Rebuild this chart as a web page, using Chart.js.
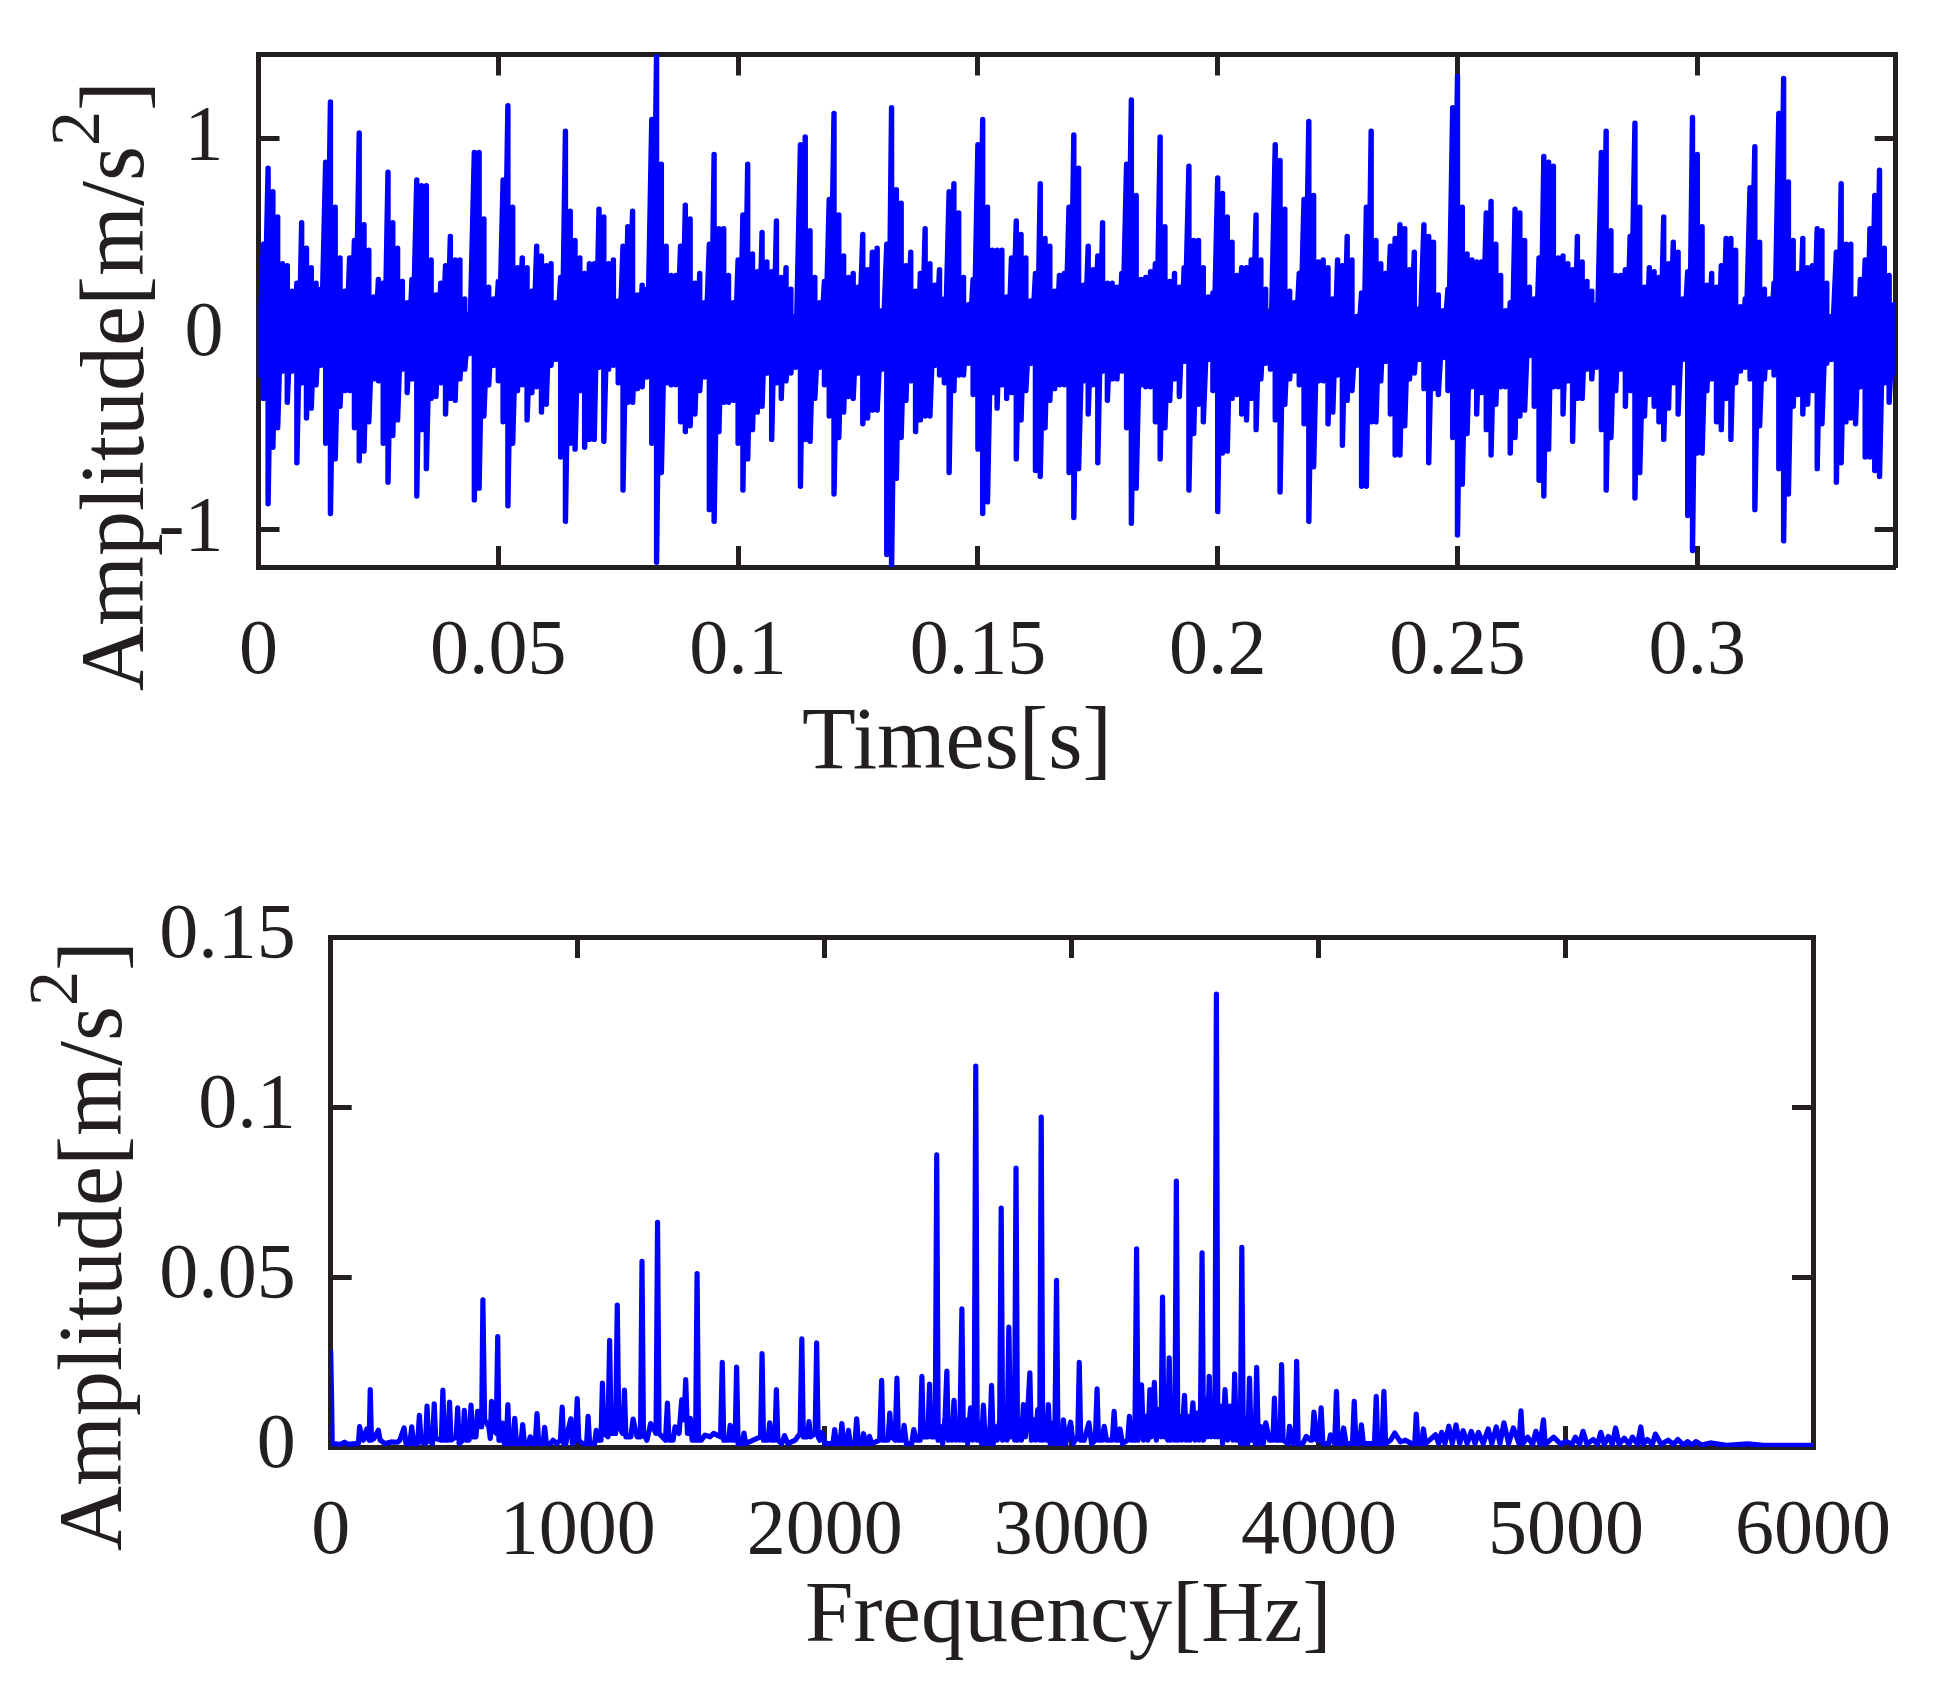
<!DOCTYPE html>
<html>
<head>
<meta charset="utf-8">
<title>Vibration signal and spectrum</title>
<script src="https://cdn.jsdelivr.net/npm/chart.js@4/dist/chart.umd.min.js"></script>
<style>
  html, body { margin: 0; background: #fff; }
  canvas { position: absolute; left: 0; }
</style>
</head>
<body>
<canvas id="wave" style="top:0"></canvas>
<canvas id="spectrum" style="top:841px"></canvas>
<script>
const timeStepS = 0.001;
const waveUpper = [
  .14,.46,.85,.73,.60,.36,.35,.22,.26,.57,.44,.34,.26,.23,.88,1.19,.65,.39,.22,.39,.48,1.03,.56,.43,.19,.28,.26,.83,.57,.44,
  .27,.16,.28,.79,.76,.76,.38,.20,.26,.35,.50,.38,.38,.18,.10,.93,.93,.59,.24,.18,.27,.79,1.17,.65,.34,.39,.34,.22,.45,.40,
  .35,.36,.16,.29,1.04,.63,.48,.39,.31,.36,.36,.64,.60,.36,.38,.17,.45,.55,.63,.20,.25,.23,1.10,1.44,.87,.45,.30,
  .30,.45,.66,.59,.26,.31,.16,.46,.92,.54,.54,.30,.16,.38,.61,.87,.41,.32,.52,.37,.32,.58,.29,.34,.23,.09,.97,1.01,.53,.29,
  .16,.27,.69,1.13,.61,.40,.29,.31,.24,.51,.33,.42,.44,.12,.46,1.16,.74,.67,.35,.42,.22,.31,.54,.36,.25,.33,.18,.73,.77,.62,
  .29,.15,.28,.97,1.10,.65,.43,.43,.43,.19,.39,.58,.51,.39,.17,.31,.77,.49,.45,.22,.30,.31,.65,1.02,.85,
  .25,.45,.33,.40,.57,.26,.26,.24,.31,.87,1.20,.71,.28,.29,.32,.36,1.01,.55,.27,.31,.24,.34,.86,.48,.48,.34,.19,.21,.80,.72,
  .60,.47,.30,.34,.34,.38,.61,.38,.23,.12,.97,.89,.64,.22,.16,.31,.69,1.09,.71,.37,.38,.34,.18,.38,.35,.50,.38,.09,.21,.65,
  1.04,.48,.36,.31,.45,.49,.56,.54,.33,.42,.13,.56,.50,.47,.20,.12,.23,1.16,1.32,.65,.41,.38,.37,.37,.62,.68,
  .46,.30,.12,.16,.64,.62,.48,.24,.18,.39,.91,.88,.86,.39,.40,.36,.33,.50,.37,.27,.22,.15,.93,1.04,.53,.30,.30,.33,.50,1.08,
  .65,.24,.34,.32,.29,.60,.36,.47,.42,.18,.32,1.11,.92,.55,.25,.31,.24,.35,.49,.49,.43,.14,.18,.75,.96,.47,.23,.18,.26,1.13,
  1.31,.78,.48,.31,.49,.34,.35,.54,.53,.26,.09,.42,.77,.46,.46,.18,.28,.38,.54,.71,.84,.44,.30,.15
];
const waveLower = [
  -.21,-.33,-.87,-.58,-.48,-.19,-.35,-.19,-.66,-.25,-.43,-.38,-.26,-.16,-.56,-.92,-.64,-.37,-.29,-.29,-.48,-.65,-.60,-.45,-.23,-.24,-.56,-.76,-.52,-.44,
  -.18,-.30,-.23,-.83,-.49,-.69,-.33,-.32,-.25,-.41,-.33,-.34,-.23,-.18,-.10,-.85,-.79,-.42,-.26,-.16,-.24,-.45,-.88,-.56,-.29,-.26,-.44,-.30,-.27,-.40,
  -.36,-.16,-.13,-.63,-.96,-.56,-.59,-.29,-.58,-.54,-.54,-.17,-.55,-.18,-.16,-.25,-.80,-.35,-.35,-.28,-.27,-.22,-.56,-1.17,-.71,-.25,-.26,
  -.26,-.45,-.50,-.47,-.41,-.29,-.22,-.90,-.96,-.50,-.35,-.35,-.34,-.56,-.80,-.64,-.49,-.40,-.37,-.20,-.54,-.25,-.33,-.24,-.20,-.17,-.78,-.54,-.55,-.33,
  -.17,-.26,-.42,-.82,-.53,-.40,-.32,-.33,-.20,-.46,-.43,-.39,-.39,-.18,-1.13,-1.20,-.74,-.53,-.34,-.24,-.50,-.44,-.42,-.42,-.16,-.21,-.25,-.71,-.29,-.21,
  -.21,-.15,-.31,-.59,-.92,-.86,-.30,-.38,-.26,-.33,-.30,-.64,-.44,-.29,-.15,-.70,-.73,-.48,-.34,-.28,-.26,-.26,-.71,-.94,-.69,
  -.24,-.41,-.26,-.66,-.19,-.34,-.23,-.23,-.19,-.48,-.97,-.79,-.26,-.27,-.27,-.45,-.64,-.48,-.34,-.23,-.32,-.14,-.80,-.51,-.36,-.45,-.13,-.29,-.91,-.61,
  -.60,-.33,-.31,-.41,-.44,-.33,-.49,-.23,-.15,-.18,-.44,-.81,-.36,-.23,-.19,-.26,-.46,-.96,-.68,-.24,-.24,-.46,-.40,-.21,-.57,-.34,-.29,-.16,-.78,-.78,
  -.45,-.45,-.24,-.14,-.41,-.62,-.62,-.47,-.23,-.20,-.13,-.28,-.66,-.28,-.31,-.12,-.29,-.53,-1.03,-.77,-.51,-.27,-.41,-.30,-.49,-.62,
  -.36,-.27,-.27,-.61,-.53,-.42,-.39,-.11,-.37,-.75,-.83,-.59,-.27,-.27,-.41,-.24,-.55,-.33,-.33,-.18,-.23,-.17,-.49,-.80,-.53,-.29,-.18,-.37,-.29,-.84,
  -.71,-.42,-.31,-.37,-.45,-.54,-.38,-.25,-.41,-.13,-.93,-1.11,-.61,-.61,-.29,-.23,-.45,-.49,-.33,-.54,-.25,-.19,-.17,-.23,-.90,-.47,-.23,-.17,-.21,-.69,
  -1.06,-.82,-.37,-.31,-.41,-.36,-.29,-.69,-.46,-.15,-.13,-.76,-.66,-.45,-.43,-.46,-.27,-.63,-.63,-.70,-.73,-.25,-.35,-.20
];
const timeTicks = [0, 0.05, 0.1, 0.15, 0.2, 0.25, 0.3];
const waveTicks = [-1, 0, 1];

// bottom panel: spectrum, peaks with the floor either side
const specFreq = [
  0,4,6,40,56,70,100,112,117,124,132,146,152,156,160,165,175,193,200,220,245,270,280,297,305,320,328,336,352,359,366,384,390,396,412,419,425,448,454,460,475,481,487,508,514,520,535,541,547,560,568,575,588,595,605,611,616,623,640,646,651,658,670,676,681,690,696,703,711,717,723,738,745,752,770,777,784,800,808,816,828,835,842,860,866,873,890,900,915,930,937,943,952,958,972,978,990,998,1004,1020,1036,1042,1048,1068,1075,1082,1094,1100,1106,1122,1129,1135,1153,1160,1166,1182,1189,1195,1215,1224,1240,1254,1260,1266,1280,1295,1317,1323,1329,1355,1363,1369,1386,1394,1410,1421,1430,1437,1444,1450,1456,1463,1477,1483,1489,1500,1515,1535,1550,1578,1585,1591,1610,1617,1624,1637,1643,1649,1665,1673,1680,1710,1740,1746,1752,1770,1777,1784,1798,1804,1810,1825,1837,1850,1880,1900,1907,1913,1930,1936,1942,1961,1967,1973,1980,1988,2000,2020,2033,2040,2047,2062,2069,2076,2089,2096,2103,2122,2129,2136,2150,2157,2165,2174,2181,2190,2222,2230,2236,2256,2263,2270,2285,2292,2298,2314,2321,2330,2352,2360,2370,2386,2393,2399,2417,2424,2430,
  2447,2453,2459,2468,2477,2487,2494,2500,2508,2515,2523,2530,2538,2546,2555,2561,2570,2578,2590,2598,2605,2611,2617,2626,2634,2642,2650,2659,2667,2675,2682,2690,2698,2708,2714,2720,2729,2738,2745,2752,2760,2768,2774,2780,2788,2796,2804,2812,2821,2830,2836,2845,2853,2862,2870,2876,2882,2890,2898,2905,2912,2922,2931,2938,2944,2953,2960,2966,2975,2985,2995,3005,
  3024,3030,3036,3050,3069,3080,3095,3102,3108,3123,3131,3140,3164,3171,3178,3188,3195,3205,3226,3233,3240,
  3255,3262,3268,3276,3282,3290,3299,3308,3316,3322,3328,3334,3342,3351,3361,3367,3373,3381,3388,3394,3400,3409,3417,3423,3429,3437,3445,3456,3463,3471,3478,3490,3498,3508,3515,3521,3527,3533,3542,3550,3556,3563,3571,3579,3585,3591,3601,3610,3620,3630,3641,3652,3659,3666,3674,3682,3688,3694,3703,3712,3719,3726,3734,3742,3748,3755,3765,3775,3785,3800,
  3814,3820,3826,3843,3849,3855,3875,3881,3895,3904,3910,3916,3935,3949,3965,3973,3980,3992,4002,4009,4016,4040,4047,4064,4071,4078,4092,4100,4110,4136,4143,4150,4165,4172,4180,4225,4232,4238,4256,4263,4270,4290,4307,4330,4350,4375,4388,4394,4401,4416,4423,4432,4472,4485,4497,4510,4526,4540,4555,4570,4584,4600,4617,4632,4646,4665,4685,4700,4718,4733,4749,4768,4787,4810,4818,4825,4845,4865,4878,4895,4909,4916,4950,4980,5000,5025,5038,5055,5069,5085,5110,5128,5141,5155,5172,5188,5201,5215,5236,5255,5269,5290,5303,5312,5329,5350,5362,5385,5414,5435,5453,5475,5492,5510,5526,5550,5584,5650,5735,5800,6000
];
const specAmp = [
  .028,.012,.001,.0008,.0014,.0008,.001,.001,.006,.0035,.002,.0053,.0025,.002,.0169,.002,.0025,.0049,.002,.001,.0015,.0014,.002,.0056,.001,.001,.0059,.001,.001,.0093,.0015,.001,.012,.002,.001,.0127,.0025,.002,.0167,.002,.002,.0132,.002,.003,.0115,.001,.002,.0108,.002,.002,.0123,.003,.003,.0105,.006,.006,.0433,.008,.006,.0025,.0134,.005,.004,.0325,.002,.002,.007,.001,.001,.0125,.001,.001,.0084,.001,.001,.0066,.001,.001,.003,.001,.001,.0098,.001,.001,.0058,.001,.001,.002,.001,.002,.0117,.001,.001,.004,.0083,.001,.002,.0142,.002,.001,.001,.009,.001,.001,.0049,.002,.002,.0188,.004,.003,.0314,.004,.004,.0417,.006,.004,.0167,.003,.003,.0082,.003,.003,.0546,.004,.002,.0069,.004,.0661,.004,.002,.0129,.002,.002,.0059,.004,.0139,.008,.0198,.004,.004,.0084,.002,.002,.051,.002,.002,.0035,.003,.004,.003,.0249,.002,.002,.0064,.002,.002,.0235,.001,.001,.0041,.001,.002,.003,.0275,.002,.002,.0071,.002,.002,.0169,.002,.001,.0033,.001,.002,.004,.0318,.003,.003,.0075,.003,.004,.0306,.003,.002,.0043,.001,.001,.001,.0051,.001,.001,.0069,.001,.001,.0049,.001,.001,.0083,.001,.001,.0039,.001,.001,.0031,.001,.002,.0196,.002,.002,.01,.003,.002,.0203,.002,.002,.0064,.001,.001,.0051,.002,.002,.0208,.003,.003,.0185,.003,
  .003,.0859,.002,.006,.001,.009,.0223,.002,.007,.002,.0137,.002,.007,.002,.0406,.002,.008,.001,.0115,.002,.009,.112,.002,.007,.001,.0123,.001,.005,.001,.0181,.001,.006,.002,.008,.0703,.002,.01,.002,.0353,.003,.012,.002,.082,.002,.006,.002,.0125,.003,.01,.0218,.002,.008,.002,.011,.002,.097,.002,.009,.002,.0125,.001,.007,.001,.049,.001,.005,.001,.008,.001,.004,.0073,.001,
  .003,.0249,.002,.002,.0071,.001,.002,.0171,.002,.002,.0061,.002,.002,.0105,.002,.002,.0053,.001,.002,.009,.002,
  .002,.0583,.002,.01,.0183,.002,.009,.002,.0169,.003,.009,.019,.002,.011,.003,.0441,.003,.012,.002,.0262,.002,.01,.002,.0782,.002,.009,.002,.0152,.002,.009,.002,.013,.002,.01,.002,.012,.0571,.002,.014,.003,.0208,.003,.012,.003,.1332,.003,.012,.001,.0169,.002,.012,.002,.0215,.002,.01,.001,.0587,.001,.008,.001,.0203,.002,.008,.001,.0234,.001,.006,.001,.0071,.002,
  .002,.0144,.002,.002,.0242,.002,.001,.0061,.001,.002,.0252,.001,.001,.0031,.002,.002,.0103,.002,.002,.0115,.001,.001,.0036,.001,.0164,.001,.001,.0056,.001,.001,.0134,.001,.001,.0065,.001,.001,.0149,.001,.001,.0164,.001,.002,.0041,.0015,.002,.001,.001,.0097,.001,.001,.0053,.001,.0036,.001,.0043,.001,.0061,.001,.0065,.001,.0048,.001,.0046,.001,.0043,.001,.0053,.001,.0059,.001,.0071,.001,.0056,.001,.0106,.001,.0029,.0008,.0046,.0008,.008,.0008,.0029,.0008,.0017,.0008,.0029,.0008,.0046,.0008,.0022,.0008,.0043,.0008,.0031,.0008,.0056,.0008,.0026,.0008,.0029,.0008,.0059,.0008,.0022,.0008,.0038,.0008,.002,.0008,.0022,.0006,.0016,.0006,.0016,.0006,.0012,.0005,.0009,.0005,.0005
];
const freqTicks = [0, 1000, 2000, 3000, 4000, 5000, 6000];
const specTicks = [0, 0.05, 0.1, 0.15];

const INK = '#231f20', BLUE = '#0000ff', SERIF = '"Liberation Serif", serif';
const CHART_W = 1936, CHART_H = 841;

const wavePoints = [];
waveUpper.forEach((v, i) => {
  wavePoints.push({ x: i * timeStepS, y: v });
  wavePoints.push({ x: i * timeStepS, y: waveLower[i] });
});
const specPoints = specFreq.map((f, i) => ({ x: f, y: specAmp[i] }));

// inward ticks on all four sides, labels only on the left and bottom
function axis(position, min, max, ticks, size, labelled) {
  return {
    type: 'linear', position, min, max,
    afterBuildTicks: s => { s.ticks = ticks.map(value => ({ value })); },
    afterFit: s => {
      if (s.isHorizontal()) s.height = size; else s.width = size;
      s.paddingLeft = s.paddingRight = s.paddingTop = s.paddingBottom = 0;
    },
    grid: { drawOnChartArea: false, tickLength: -21, tickWidth: 5, tickColor: INK },
    border: { color: INK, width: 5 },
    ticks: {
      display: labelled, autoSkip: false, maxRotation: 0, color: INK,
      font: { family: SERIF, size: 78 },
      callback: v => String(v),
    },
  };
}

// axis labels sit off-centre in the original, so they get placed by hand
function labelPlugin(xLabel, yLabel) {
  return {
    id: 'axisLabels',
    afterDraw(chart) {
      const c = chart.ctx;
      c.save();
      c.fillStyle = INK;
      c.textBaseline = 'alphabetic';
      c.textAlign = 'left';
      c.font = `${xLabel.size}px ${SERIF}`;
      c.fillText(xLabel.text, xLabel.x, xLabel.y);

      c.translate(yLabel.x, yLabel.y);
      c.rotate(-Math.PI / 2);
      c.font = `${yLabel.size}px ${SERIF}`;
      c.fillText(yLabel.text, 0, 0);
      let at = c.measureText(yLabel.text).width;
      c.font = `${yLabel.supSize}px ${SERIF}`;
      c.fillText(yLabel.sup, at, -yLabel.supRise);
      at += c.measureText(yLabel.sup).width;
      c.font = `${yLabel.size}px ${SERIF}`;
      c.fillText(yLabel.end, at, 0);
      c.restore();
    },
  };
}

function panel(id, points, box, xr, yr, xLabel, yLabel, tickPad, lineWidth) {
  const scales = {
    x: axis('bottom', xr.min, xr.max, xr.ticks, CHART_H - box.bottom, true),
    y: axis('left', yr.min, yr.max, yr.ticks, box.left, true),
    x2: axis('top', xr.min, xr.max, xr.ticks, 0, false),
    y2: axis('right', yr.min, yr.max, yr.ticks, 0, false),
  };
  scales.x.ticks.padding = tickPad.x;
  scales.y.ticks.padding = tickPad.y;
  return new Chart(document.getElementById(id), {
    type: 'line',
    data: {
      datasets: [{
        data: points, borderColor: BLUE, borderWidth: lineWidth, tension: 0,
        borderJoinStyle: 'round', borderCapStyle: 'round', pointRadius: 0, fill: false,
      }],
    },
    options: {
      responsive: false, animation: false, devicePixelRatio: 1,
      layout: { autoPadding: false, padding: { left: 0, top: box.top, right: CHART_W - box.right, bottom: 0 } },
      plugins: { legend: { display: false }, tooltip: { enabled: false } },
      scales,
    },
    plugins: [labelPlugin(xLabel, yLabel)],
  });
}

for (const id of ['wave', 'spectrum']) {
  const el = document.getElementById(id);
  el.width = CHART_W; el.height = CHART_H;
}

panel('wave', wavePoints,
  { left: 258.5, right: 1895.7, top: 54.5, bottom: 567 },
  { min: 0, max: 0.34137, ticks: timeTicks },
  { min: -1.194, max: 1.4326, ticks: waveTicks },
  { text: 'Times[s]', size: 88, x: 802, y: 768 },
  { text: 'Amplitude[m/s', sup: '2', end: ']', size: 90, supSize: 70, supRise: 44, x: 143, y: 691 },
  { x: 60, y: 56 }, 5.4);

panel('spectrum', specPoints,
  { left: 330.7, right: 1813, top: 96, bottom: 606 },
  { min: 0, max: 6000, ticks: freqTicks },
  { min: 0, max: 0.15, ticks: specTicks },
  { text: 'Frequency[Hz]', size: 87, x: 805, y: 800 },
  { text: 'Amplitude[m/s', sup: '2', end: ']', size: 90, supSize: 70, supRise: 44, x: 121, y: 710 },
  { x: 60, y: 56 }, 5.2);
</script>
</body>
</html>
